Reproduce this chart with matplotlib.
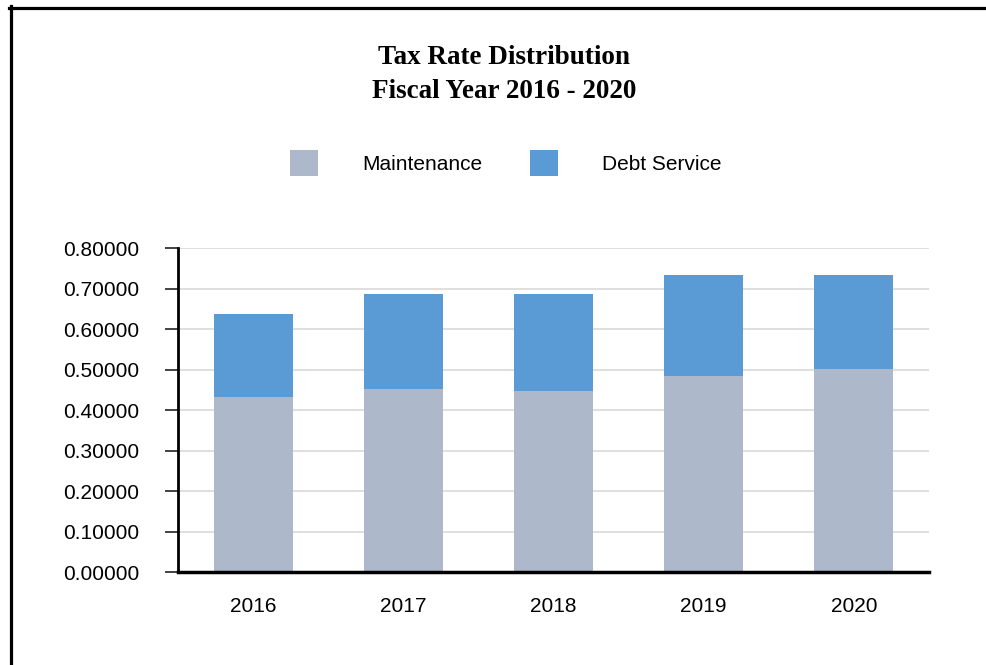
import matplotlib.pyplot as plt
from matplotlib.lines import Line2D
import numpy as np

years = ["2016", "2017", "2018", "2019", "2020"]
maintenance = [0.4335, 0.4530, 0.4480, 0.4850, 0.5020]
debt_service = [0.2045, 0.2340, 0.2390, 0.2490, 0.2320]
y_ticks = [0.0, 0.1, 0.2, 0.3, 0.4, 0.5, 0.6, 0.7, 0.8]

MAINT_COLOR = "#adb8ca"
DEBT_COLOR = "#5b9bd5"

plt.rcParams["font.family"] = ["Liberation Sans", "DejaVu Sans"]

fig = plt.figure(figsize=(9.86, 6.65), dpi=100)
ax = fig.add_axes([0.1805, 0.1391, 0.7617, 0.4875])

x = np.arange(len(years))
width = 0.526
b1 = ax.bar(x, maintenance, width, color=MAINT_COLOR, label="Maintenance", zorder=2)
b2 = ax.bar(x, debt_service, width, bottom=maintenance, color=DEBT_COLOR,
            label="Debt Service", zorder=2)

ax.set_xlim(-0.5, len(years) - 0.5)
ax.set_ylim(0, 0.8)
ax.set_yticks(y_ticks)
ax.set_yticklabels([f"{v:.5f}" for v in y_ticks], fontsize=15)
ax.set_xticks(x)
ax.set_xticklabels(years, fontsize=15)

ax.yaxis.grid(True, color="#d9d9d9", linewidth=1.2, zorder=0)
ax.set_axisbelow(True)
for side in ("top", "right"):
    ax.spines[side].set_visible(False)
ax.spines["left"].set_linewidth(2)
ax.spines["bottom"].set_linewidth(2.5)
ax.tick_params(axis="y", length=9.4, width=1.2, color="#222222", pad=18.5)
ax.tick_params(axis="x", length=0, pad=18)

fig.legend(handles=[b1, b2], loc="center", bbox_to_anchor=(0.513, 0.755),
           ncol=2, frameon=False, fontsize=15, handlelength=1.35,
           handleheight=1.6, handletextpad=2.1, columnspacing=2.3,
           borderpad=0)

title_font = dict(family="Liberation Serif", weight="bold", fontsize=19.5,
                  ha="center", va="center")
fig.text(0.511, 1 - 58 / 665, "Tax Rate Distribution", **title_font)
fig.text(0.511, 1 - 91 / 665, "Fiscal Year 2016 - 2020", **title_font)

# frame edges along the top and left
fig.add_artist(Line2D([9 / 986, 1.0], [1 - 7.5 / 665] * 2, color="black",
                      linewidth=2.3, transform=fig.transFigure))
fig.add_artist(Line2D([10.5 / 986] * 2, [0.0, 1 - 6 / 665], color="black",
                      linewidth=2.3, transform=fig.transFigure))

fig.savefig("out.png", dpi=100)
